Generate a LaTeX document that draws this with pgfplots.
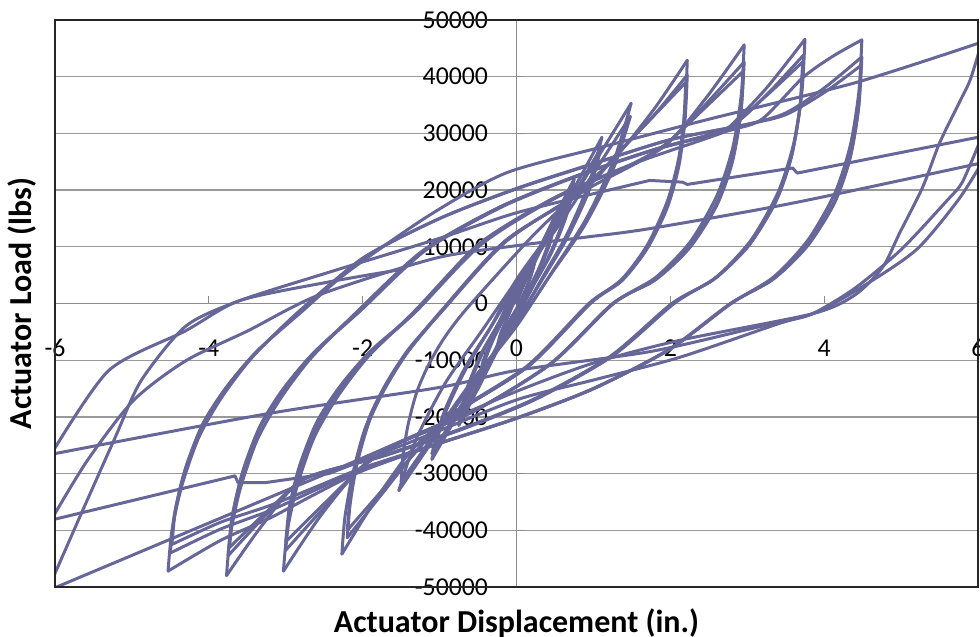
\documentclass[border=0pt]{standalone}
\usepackage{pgfplots}
\pgfplotsset{compat=1.18}
\usepackage{fontspec}
\setmainfont{Carlito}
\definecolor{lc}{RGB}{102,102,153}

\begin{document}
\begin{tikzpicture}
\begin{axis}[
    name=ax,
    scale only axis,
    width=369.2pt, height=226.8pt,
    xmin=-6, xmax=6, ymin=-50000, ymax=50000,
    axis lines=middle,
    axis line style={-, black!45, line width=0.5pt},
    hide obscured x ticks=false,
    hide obscured y ticks=false,
    scaled x ticks=false,
    scaled y ticks=false,
    xtick={-6,-4,-2,0,2,4,6},
    xticklabels={-6,-4,-2,0,2,4,6},
    ytick={-50000,-40000,-30000,-20000,-10000,0,10000,20000,30000,40000,50000},
    yticklabels={-50000,-40000,-30000,-20000,-10000,0,10000,20000,30000,40000,50000},
    tick align=inside,
    major tick length=3pt,
    tick style={black!45, line width=0.5pt},
    ymajorgrids,
    major grid style={black!40, line width=0.5pt},
    xticklabel style={anchor=center, yshift=-17.8pt, font=\fontsize{10.3}{12}\selectfont},
    yticklabel style={anchor=east, inner sep=0pt, xshift=-11.2pt, font=\fontsize{10.3}{12}\selectfont},
    every axis x label/.style={at={(rel axis cs:0.5,0)}, anchor=center, yshift=-14.4pt,
        font=\fontsize{12.8}{15}\selectfont\bfseries},
    every axis y label/.style={at={(rel axis cs:0,0.5)}, anchor=center, rotate=90, yshift=13.2pt,
        font=\fontsize{12.8}{15}\selectfont\bfseries},
    xlabel={Actuator Displacement (in.)},
    ylabel={Actuator Load (lbs)},
    hys/.style={lc, line width=1.2pt, smooth, tension=0.45, line join=round, line cap=round},
    hyl/.style={lc, line width=1.2pt, sharp plot, line join=round, line cap=round},
    after end axis/.code={
        \draw[black!85, line width=0.6pt] (rel axis cs:0,0) rectangle (rel axis cs:1,1);
        \coordinate (bl) at (rel axis cs:0,0);
        \coordinate (tr) at (rel axis cs:1,1);
    },
]

% small cycles around the origin
\addplot[hys] coordinates {(0,0) (0.1,3500) (0.18,6200) (0.25,8500)};
\addplot[hys] coordinates {(0.25,8500) (0.21,6100) (0.15,3600) (0.08,1300) (0,-1000) (-0.09,-3200) (-0.18,-5800) (-0.25,-8000)};
\addplot[hys] coordinates {(-0.25,-8000) (-0.21,-5800) (-0.15,-3400) (-0.08,-1200) (0,1000) (0.09,3200) (0.18,5800) (0.25,8000)};
\addplot[hys] coordinates {(0.25,8000) (0.21,5800) (0.15,3400) (0.08,1200) (0,-900) (-0.09,-3000) (-0.18,-5400) (-0.25,-7500)};
\addplot[hys] coordinates {(-0.25,-7500) (-0.2,-5000) (-0.1,-2000) (0,1500) (0.18,6000) (0.35,11000) (0.5,15500)};
\addplot[hys] coordinates {(0.5,15500) (0.43,11200) (0.3,6500) (0.15,2300) (0,-1800) (-0.18,-6000) (-0.35,-10800) (-0.5,-15000)};
\addplot[hys] coordinates {(-0.5,-15000) (-0.43,-10800) (-0.3,-6300) (-0.15,-2200) (0,1700) (0.18,5800) (0.35,10400) (0.5,14500)};
\addplot[hys] coordinates {(0.5,14500) (0.43,10400) (0.3,6100) (0.15,2200) (0,-1700) (-0.18,-5600) (-0.35,-10100) (-0.5,-14000)};

% 0.75 in.
\addplot[hys] coordinates {(-0.5,-14000) (-0.43,-10000) (-0.3,-5900) (-0.15,-2100) (0,2500) (0.26,8800) (0.52,15800) (0.75,22000)};
\addplot[hys] coordinates {(0.75,22000) (0.64,15800) (0.45,9200) (0.22,3300) (0,-2600) (-0.26,-8600) (-0.52,-15500) (-0.75,-21500)};
\addplot[hys] coordinates {(-0.75,-21500) (-0.64,-15500) (-0.45,-9000) (-0.22,-3200) (0,2500) (0.26,8400) (0.52,15100) (0.75,21000)};
\addplot[hys] coordinates {(0.75,21000) (0.64,15100) (0.45,8800) (0.22,3150) (0,-2500) (-0.26,-8200) (-0.52,-14800) (-0.75,-20500)};

% 1.1 in.
\addplot[hys] coordinates {(-0.75,-20500) (-0.64,-14800) (-0.45,-8600) (-0.22,-3100) (0,3500) (0.39,11700) (0.78,21100) (1.11,29300)};
\addplot[hys] coordinates {(1.11,29300) (0.94,21100) (0.66,12300) (0.33,4400) (0,-3300) (-0.39,-11000) (-0.77,-19800) (-1.1,-27500)};
\addplot[hys] coordinates {(-1.1,-27500) (-0.94,-19800) (-0.66,-11600) (-0.33,-4100) (0,3300) (0.39,11000) (0.77,19800) (1.1,27500)};
\addplot[hys] coordinates {(1.1,27500) (0.94,19800) (0.66,11600) (0.33,4100) (0,-3200) (-0.39,-10600) (-0.77,-19100) (-1.1,-26500)};

% 1.5 in.
\addplot[hys] coordinates {(-1.1,-26500) (-0.94,-19100) (-0.66,-11100) (-0.33,-4000) (0,4200) (0.52,14100) (1.04,25400) (1.49,35300)};
\addplot[hys] coordinates {(1.49,35300) (1.27,25400) (0.9,14800) (0.45,5300) (0,-4000) (-0.53,-13200) (-1.07,-23800) (-1.53,-33000)};
\addplot[hys] coordinates {(-1.53,-33000) (-1.3,-23800) (-0.92,-13900) (-0.46,-5000) (0,4000) (0.52,13200) (1.04,23800) (1.48,33000)};
\addplot[hys] coordinates {(1.48,33000) (1.26,23800) (0.89,13900) (0.44,5000) (0,-3800) (-0.52,-12600) (-1.05,-22700) (-1.5,-31500)};

% 2.2 in.
\addplot[hys] coordinates {(-1.5,-31500) (-1.475,-26800) (-1.41,-21400) (-1.3,-15750) (-1.15,-11000) (-0.95,-6300) (-0.65,-950) (0.18,11500) (0.75,19000) (1.3,26000) (1.8,34500) (2.22,42900)};
\addplot[hys] coordinates {(2.22,42900) (2.19,34300) (2.11,25700) (1.96,18000) (1.7,10300) (1.37,4300) (0.96,0) (0.16,-11000) (-0.84,-19700) (-1.37,-26000) (-1.85,-35000) (-2.27,-44200)};
\addplot[hys] coordinates {(-2.27,-44200) (-2.23,-37600) (-2.13,-30100) (-1.97,-22100) (-1.74,-15500) (-1.43,-8800) (-0.98,-1300) (-0.15,11000) (0.85,19700) (1.32,26500) (1.8,33400) (2.22,40300)};
\addplot[hys] coordinates {(2.22,40300) (2.19,32200) (2.11,24200) (1.96,16900) (1.7,9700) (1.37,4000) (0.96,0) (0.16,-11000) (-0.84,-19700) (-1.3,-26000) (-1.75,-33600) (-2.2,-41300)};
\addplot[hys] coordinates {(-2.2,-41300) (-2.16,-35100) (-2.07,-28100) (-1.91,-20650) (-1.69,-14500) (-1.4,-8300) (-0.96,-1200) (-0.15,11000) (0.85,19700) (1.3,26300) (1.75,32600) (2.2,39000)};
\addplot[hys] coordinates {(2.2,39000) (2.17,31200) (2.09,23400) (1.94,16400) (1.68,9400) (1.35,3900) (0.94,0) (0.14,-11000) (-0.86,-19700) (-1.3,-26000) (-1.75,-33000) (-2.2,-40000)};

% 3.0 in.
\addplot[hys] coordinates {(-2.2,-40000) (-2.16,-34000) (-2.07,-27200) (-1.91,-20000) (-1.69,-14000) (-1.4,-8000) (-0.96,-1200) (-0.13,11000) (0.87,19800) (1.9,27500) (2.45,36000) (2.96,45600)};
\addplot[hys] coordinates {(2.96,45600) (2.92,36500) (2.81,27400) (2.61,19150) (2.26,10900) (1.81,4600) (1.26,0) (0.46,-10500) (-0.54,-18900) (-1.54,-24700) (-2.03,-29000) (-2.55,-37500) (-3.03,-47200)};
\addplot[hys] coordinates {(-3.03,-47200) (-2.98,-40100) (-2.85,-32100) (-2.63,-23600) (-2.33,-16500) (-1.93,-9400) (-1.33,-1400) (-0.48,10500) (0.52,18800) (1.52,24600) (1.96,28300) (2.45,35000) (2.96,42600)};
\addplot[hys] coordinates {(2.96,42600) (2.92,34100) (2.81,25600) (2.61,17900) (2.26,10200) (1.81,4300) (1.26,0) (0.46,-10500) (-0.54,-18900) (-1.54,-24700) (-2.0,-28800) (-2.5,-36000) (-3.0,-43500)};
\addplot[hys] coordinates {(-3.0,-43500) (-2.95,-37000) (-2.82,-29600) (-2.6,-21750) (-2.3,-15200) (-1.9,-8700) (-1.3,-1300) (-0.5,10400) (0.5,18700) (1.5,24600) (1.95,28200) (2.45,34500) (2.95,41000)};
\addplot[hys] coordinates {(2.95,41000) (2.91,32800) (2.8,24600) (2.6,17200) (2.25,9800) (1.8,4100) (1.25,0) (0.45,-10500) (-0.55,-18900) (-1.55,-24700) (-2.0,-28800) (-2.5,-35300) (-3.0,-42000)};

% 3.75 in.
\addplot[hys] coordinates {(-3.0,-42000) (-2.95,-35700) (-2.82,-28600) (-2.6,-21000) (-2.3,-14700) (-1.9,-8400) (-1.3,-1300) (-0.45,10500) (0.55,18900) (1.55,24800) (2.55,29500) (2.75,30900) (3.25,38000) (3.75,46600)};
\addplot[hys] coordinates {(3.75,46600) (3.71,37300) (3.6,28000) (3.4,19600) (3.05,11200) (2.6,4700) (2.05,0) (1.25,-9250) (0.25,-16900) (-0.75,-22400) (-1.75,-27000) (-2.77,-31000) (-3.3,-39000) (-3.77,-48000)};
\addplot[hys] coordinates {(-3.77,-48000) (-3.72,-40800) (-3.59,-32600) (-3.37,-24000) (-3.07,-16800) (-2.67,-9600) (-2.07,-1400) (-1.22,9300) (-0.22,17000) (0.78,22500) (1.78,27100) (2.73,30800) (3.25,36800) (3.73,43800)};
\addplot[hys] coordinates {(3.73,43800) (3.69,35000) (3.58,26300) (3.38,18400) (3.03,10500) (2.58,4400) (2.03,0) (1.23,-9300) (0.23,-16900) (-0.77,-22400) (-1.77,-27000) (-2.75,-30900) (-3.25,-37200) (-3.75,-44500)};
\addplot[hys] coordinates {(-3.75,-44500) (-3.7,-37800) (-3.57,-30300) (-3.35,-22250) (-3.05,-15600) (-2.65,-8900) (-2.05,-1300) (-1.2,9400) (-0.2,17100) (0.8,22600) (1.8,27200) (2.72,30800) (3.22,36300) (3.72,42600)};
\addplot[hys] coordinates {(3.72,42600) (3.68,34100) (3.57,25600) (3.37,17900) (3.02,10200) (2.57,4300) (2.02,0) (1.22,-9300) (0.22,-16900) (-0.78,-22400) (-1.78,-27000) (-2.73,-30800) (-3.23,-36500) (-3.73,-43000)};

% 4.5 in.
\addplot[hys] coordinates {(-3.73,-43000) (-3.68,-36600) (-3.55,-29200) (-3.33,-21500) (-3.03,-15000) (-2.63,-8600) (-2.03,-1300) (-1.18,9400) (-0.18,17100) (0.82,22600) (1.82,27200) (2.82,30700) (3.2,32600) (3.72,39800) (4.1,43500) (4.49,46500)};
\addplot[hys] coordinates {(4.49,46500) (4.45,37200) (4.34,27900) (4.14,19500) (3.79,11200) (3.34,4650) (2.79,0) (1.99,-8100) (0.99,-15100) (-0.01,-20300) (-1.01,-24700) (-2.0,-29500) (-2.6,-33500) (-3.2,-37800) (-3.85,-41800) (-4.53,-47200)};
\addplot[hys] coordinates {(-4.53,-47200) (-4.48,-40100) (-4.35,-32100) (-4.13,-23600) (-3.83,-16500) (-3.43,-9400) (-2.83,-1400) (-1.98,8100) (-0.98,15100) (0.02,20300) (1.02,24700) (2.0,28900) (3.0,31600) (3.5,33600) (4.0,38000) (4.49,43500)};
\addplot[hys] coordinates {(4.49,43500) (4.45,34800) (4.34,26100) (4.14,18300) (3.79,10400) (3.34,4350) (2.79,0) (1.99,-8100) (0.99,-15100) (-0.01,-20300) (-1.01,-24700) (-2.0,-29200) (-2.6,-32800) (-3.2,-36500) (-3.85,-39800) (-4.5,-44000)};
\addplot[hys] coordinates {(-4.5,-44000) (-4.45,-37400) (-4.32,-29900) (-4.1,-22000) (-3.8,-15400) (-3.4,-8800) (-2.8,-1300) (-2.0,8000) (-1.0,15000) (0,20300) (1.0,24700) (2.0,28900) (3.0,31600) (3.5,33300) (4.0,37200) (4.48,42000)};
\addplot[hys] coordinates {(4.48,42000) (4.44,33600) (4.33,25200) (4.13,17600) (3.78,10100) (3.33,4200) (2.78,0) (1.98,-8100) (0.98,-15100) (-0.02,-20300) (-1.02,-24700) (-2.0,-29000) (-2.6,-32300) (-3.2,-35600) (-3.85,-38600) (-4.48,-42500)};

% 6 in. (peaks beyond the axis limits)
\addplot[hys] coordinates {(-4.48,-42500) (-4.43,-36100) (-4.3,-28900) (-4.08,-21250) (-3.78,-14900) (-3.38,-8500) (-2.78,-1300) (-2.2,5500) (-1.14,15500) (-0.14,23000) (1.11,27600) (2.5,32500) (4.42,39000) (6.05,46100)};
\addplot[hys] coordinates {(6.05,46100) (5.9,39500) (5.77,35800) (5.5,28300) (5.28,20500) (4.98,12400) (4.76,6400) (4.4,1500) (3.85,-1800) (2.12,-6500) (1.0,-10500) (0,-15500) (-1.2,-22500) (-2.44,-29800) (-6.1,-50700)};
\addplot[hys] coordinates {(-6.1,-50700) (-5.66,-37100) (-5.22,-23700) (-4.88,-13600) (-4.3,-4000) (-3.6,500) (-2.44,5500) (-1.0,11500) (0,16000) (1.2,20000)};
\addplot[hyl] coordinates {(1.2,20000) (1.73,21700) (2.16,21400) (2.22,21000) (3.59,23900) (3.65,23000) (6.05,29450)};
\addplot[hys] coordinates {(6.05,29450) (5.8,21500) (5.6,18200) (5.0,9500) (4.4,2700) (3.85,-1800) (3.42,-3500) (2.12,-9500) (1.0,-13500) (0,-17000) (-1.2,-23500) (-2.44,-30000)};
\addplot[hyl] coordinates {(-2.44,-30000) (-3.27,-31600) (-3.62,-31600) (-3.66,-30400) (-3.75,-30700) (-6.05,-38200)};
\addplot[hys] coordinates {(-6.05,-38200) (-5.58,-27700) (-4.98,-17100) (-4.3,-10100) (-3.49,-4800) (-2.57,1500) (-1.05,8000) (0,10200) (0.9,11700) (1.73,13200) (3.59,17700) (6.05,24800)};
\addplot[hys] coordinates {(6.05,24800) (5.74,18200) (5.2,9500) (4.5,3000) (3.85,-1800) (3.03,-4500) (1.73,-8500) (0,-11800) (-1.0,-14800) (-3.22,-19400) (-6.05,-26600)};
\addplot[hys] coordinates {(-6.05,-26600) (-5.3,-11800) (-4.3,-4800) (-3.6,500) (-2.44,3800) (-1.5,6000)};

\end{axis}
\pgfresetboundingbox
\path ([shift={(-22pt,-20pt)}]bl) rectangle ([shift={(0.8pt,8pt)}]tr);
\end{tikzpicture}
\end{document}
